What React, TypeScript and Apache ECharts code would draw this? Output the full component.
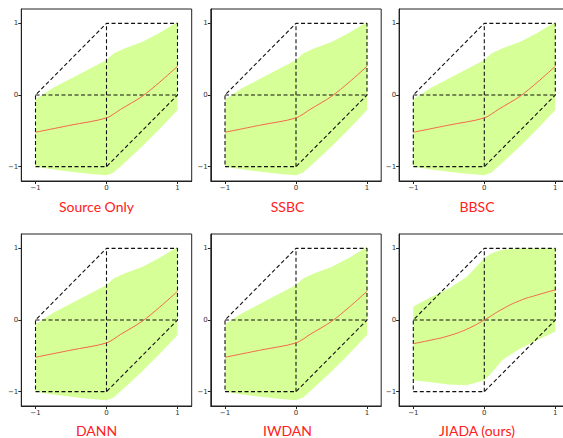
import React, { useEffect, useRef } from "react";
import * as echarts from "echarts";

// ---- data ----
const titles = ["Source Only", "SSBC", "BBSC", "DANN", "IWDAN", "JIADA (ours)"];
const tickValues = [-1, 0, 1];

const bandX = [-1, -0.75, -0.5, -0.25, 0, 0.1, 0.25, 0.5, 0.75, 1];
const baseUpper = [-0.06, 0.1, 0.23, 0.36, 0.49, 0.58, 0.65, 0.74, 0.87, 1.02];
const baseLower = [-1.0, -1.04, -1.07, -1.1, -1.12, -1.08, -0.95, -0.72, -0.47, -0.21];
const baseLineX = [-1, -0.5, 0, 0.2, 0.5, 0.75, 1];
const baseLine = [-0.52, -0.42, -0.32, -0.2, -0.02, 0.18, 0.4];

const jiadaUpper = [0.19, 0.32, 0.44, 0.6, 0.86, 0.93, 0.98, 1.0, 1.0, 1.0];
const jiadaLower = [-0.84, -0.87, -0.9, -0.91, -0.84, -0.74, -0.56, -0.4, -0.28, -0.16];
const jiadaLineX = [-1, -0.75, -0.5, -0.25, 0, 0.25, 0.5, 0.75, 1];
const jiadaLine = [-0.33, -0.28, -0.22, -0.13, 0, 0.15, 0.27, 0.35, 0.42];

const hexX = [-1, 0, 1, 1, 0, -1, -1];
const hexY = [-1, -1, 0, 1, 1, 0, -1];
const crossHX = [-1, 1];
const crossHY = [0, 0];
const crossVX = [0, 0];
const crossVY = [-1, 1];

const panelUpper = [baseUpper, baseUpper, baseUpper, baseUpper, baseUpper, jiadaUpper];
const panelLower = [baseLower, baseLower, baseLower, baseLower, baseLower, jiadaLower];
const panelLineX = [baseLineX, baseLineX, baseLineX, baseLineX, baseLineX, jiadaLineX];
const panelLine = [baseLine, baseLine, baseLine, baseLine, baseLine, jiadaLine];

// ---- layout ----
const colLeft = [21.3, 210.8, 399.1];
const rowTop = [9, 234];
const gridW = 170.4;
const gridH = 172;
const titleX = [96.5, 287.5, 477];
const titleY = [206, 430];

const zip = (xs: number[], ys: number[]) => xs.map((x, i) => [x, ys[i]]);
const fmt = (v: number) => (v < 0 ? "\u2212" + Math.abs(v) : String(v));

export default function App() {
  const ref = useRef<HTMLDivElement>(null);
  useEffect(() => {
    if (!ref.current) return;
    const chart = echarts.init(ref.current, null, { renderer: "svg" });
    const grids: any[] = [];
    const xAxes: any[] = [];
    const yAxes: any[] = [];
    const series: any[] = [];
    const graphics: any[] = [];
    const axisCommon = {
      type: "value",
      min: -1.2,
      max: 1.2,
      splitLine: { show: false },
      axisLine: { show: true, onZero: false, lineStyle: { color: "#222", width: 1 } },
      axisTick: { show: true, length: 3, customValues: tickValues, lineStyle: { color: "#222" } },
      axisLabel: { customValues: tickValues, fontSize: 7, color: "#333", margin: 3, formatter: fmt, fontFamily: "DejaVu Sans" },
    };
    for (let p = 0; p < 6; p++) {
      const r = Math.floor(p / 3);
      const c = p % 3;
      grids.push({
        left: colLeft[c],
        top: rowTop[r],
        width: gridW,
        height: gridH,
        show: true,
        borderColor: "#222",
        borderWidth: 1,
        backgroundColor: "transparent",
        containLabel: false,
        outerBoundsMode: "none",
      });
      xAxes.push({ ...axisCommon, gridIndex: p });
      yAxes.push({ ...axisCommon, gridIndex: p });
      const up = panelUpper[p];
      const lo = panelLower[p];
      series.push({
        type: "custom",
        xAxisIndex: p,
        yAxisIndex: p,
        data: [[bandX[0], lo[0]]],
        silent: true,
        z: 1,
        renderItem: (_params: any, api: any) => {
          const pts: number[][] = [];
          for (let i = 0; i < bandX.length; i++) pts.push(api.coord([bandX[i], up[i]]));
          for (let i = bandX.length - 1; i >= 0; i--) pts.push(api.coord([bandX[i], lo[i]]));
          return { type: "polygon", shape: { points: pts }, style: { fill: "#d6ff97", stroke: "none" } };
        },
      });
      const dashed = { color: "#111", width: 1.1, type: [4, 2.5] };
      const mkLine = (xs: number[], ys: number[]) => ({
        type: "line",
        xAxisIndex: p,
        yAxisIndex: p,
        data: zip(xs, ys),
        showSymbol: false,
        symbol: "none",
        lineStyle: dashed,
        z: 2,
        silent: true,
      });
      series.push(mkLine(hexX, hexY));
      series.push(mkLine(crossHX, crossHY));
      series.push(mkLine(crossVX, crossVY));
      series.push({
        type: "line",
        xAxisIndex: p,
        yAxisIndex: p,
        data: zip(panelLineX[p], panelLine[p]),
        showSymbol: false,
        symbol: "none",
        smooth: p === 5 ? 0.5 : 0.3,
        lineStyle: { color: "#f4674a", width: 1 },
        z: 3,
        silent: true,
      });
      graphics.push({
        type: "text",
        x: titleX[c],
        y: titleY[r],
        style: {
          text: titles[p],
          fill: "#ff2020",
          fontSize: 14,
          fontFamily: "Lato",
          align: "center",
          verticalAlign: "middle",
        },
      });
    }
    chart.setOption({
      animation: false,
      backgroundColor: "#ffffff",
      grid: grids,
      xAxis: xAxes,
      yAxis: yAxes,
      series,
      graphic: graphics,
    });
    return () => chart.dispose();
  }, []);
  return (
    <div
      ref={ref}
      style={{ position: "fixed", left: 0, top: 0, width: 563, height: 438 }}
    />
  );
}
